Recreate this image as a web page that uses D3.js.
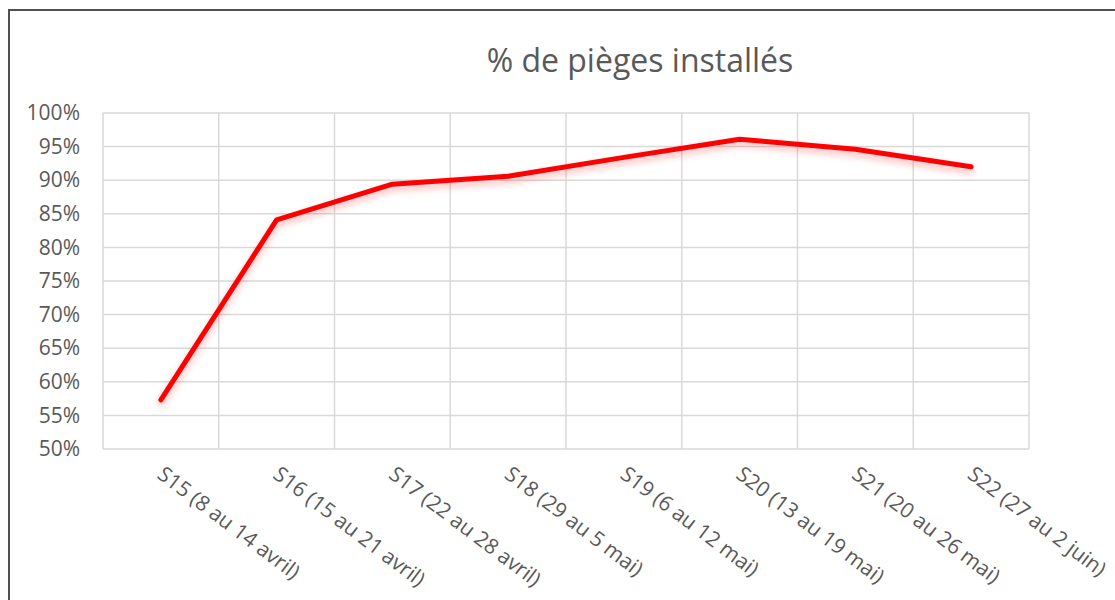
<!DOCTYPE html>
<html lang="fr">
<head>
<meta charset="UTF-8">
<title>% de pièges installés</title>
<script src="https://d3js.org/d3.v7.min.js"></script>
<style>
  body { margin: 0; background: #fff; }
  text { font-family: "Open Sans", "DejaVu Sans", sans-serif; fill: #595959; }
</style>
</head>
<body>
<div id="chart"></div>
<script>
var categories = ["S15 (8 au 14 avril)", "S16 (15 au 21 avril)", "S17 (22 au 28 avril)",
    "S18 (29 au 5 mai)", "S19 (6 au 12 mai)", "S20 (13 au 19 mai)",
    "S21 (20 au 26 mai)", "S22 (27 au 2 juin)"];
var values = [0.573, 0.841, 0.894, 0.906, 0.934, 0.961, 0.946, 0.920];
var yTicks = [0.5, 0.55, 0.6, 0.65, 0.7, 0.75, 0.8, 0.85, 0.9, 0.95, 1.0];

var W = 1115, H = 600;
var margin = {top: 113, right: 86, bottom: 151, left: 103};
var width = W - margin.left - margin.right;
var height = H - margin.top - margin.bottom;

var svg = d3.select("#chart").append("svg")
    .attr("width", W).attr("height", H);

// chart frame
svg.append("rect")
    .attr("x", 9).attr("y", 10)
    .attr("width", 1200).attr("height", 700)
    .attr("fill", "none").attr("stroke", "#505050").attr("stroke-width", 2);

// soft shadow under the line
var defs = svg.append("defs");
var f = defs.append("filter").attr("id", "glow")
    .attr("x", "-10%").attr("y", "-20%").attr("width", "120%").attr("height", "150%");
f.append("feGaussianBlur").attr("in", "SourceAlpha").attr("stdDeviation", 3.5).attr("result", "b");
f.append("feOffset").attr("in", "b").attr("dx", 0).attr("dy", 4).attr("result", "o");
f.append("feFlood").attr("flood-color", "#ff0000").attr("flood-opacity", 0.3);
f.append("feComposite").attr("in2", "o").attr("operator", "in").attr("result", "s");
var fm = f.append("feMerge");
fm.append("feMergeNode").attr("in", "s");
fm.append("feMergeNode").attr("in", "SourceGraphic");

svg.append("text")
    .attr("x", 640).attr("y", 72)
    .attr("text-anchor", "middle")
    .style("font-size", "32px")
    .text("% de pièges installés");

var g = svg.append("g")
    .attr("transform", "translate(" + margin.left + "," + margin.top + ")");

var x = d3.scaleBand().domain(categories).range([0, width]).padding(0);
var y = d3.scaleLinear().domain([0.5, 1.0]).range([height, 0]);

// horizontal grid
g.append("g").selectAll("line").data(yTicks).enter().append("line")
    .attr("x1", 0).attr("x2", width)
    .attr("y1", function(d) { return y(d); }).attr("y2", function(d) { return y(d); })
    .attr("stroke", "#d9d9d9").attr("stroke-width", 1.5);

// vertical grid (category boundaries)
var bounds = categories.map(function(c) { return x(c); }).concat([width]);
g.append("g").selectAll("line").data(bounds).enter().append("line")
    .attr("x1", function(d) { return d; }).attr("x2", function(d) { return d; })
    .attr("y1", 0).attr("y2", height)
    .attr("stroke", "#d9d9d9").attr("stroke-width", 1.5);

// y axis labels
var yAxis = d3.axisLeft(y).tickValues(yTicks).tickSize(0).tickPadding(23)
    .tickFormat(d3.format(".0%"));
var ya = g.append("g").call(yAxis);
ya.select(".domain").remove();
ya.selectAll("text").style("font-size", "21px").attr("fill", "#595959")
    .style("font-family", "\"Open Sans\", sans-serif");

// x labels rotated
g.append("g").selectAll("text").data(categories).enter().append("text")
    .attr("transform", function(d) {
        return "translate(" + (x(d) + x.bandwidth() / 2 - 5) + "," + (height + 28) + ") rotate(37)";
    })
    .attr("text-anchor", "start")
    .style("font-size", "21px")
    .text(function(d) { return d; });

// the line
var line = d3.line()
    .x(function(d, i) { return x(categories[i]) + x.bandwidth() / 2; })
    .y(function(d) { return y(d); });

g.append("path")
    .datum(values)
    .attr("d", line)
    .attr("fill", "none")
    .attr("stroke", "#ff0000")
    .attr("stroke-width", 5)
    .attr("stroke-linecap", "round")
    .attr("stroke-linejoin", "round")
    .attr("filter", "url(#glow)");
</script>
</body>
</html>
